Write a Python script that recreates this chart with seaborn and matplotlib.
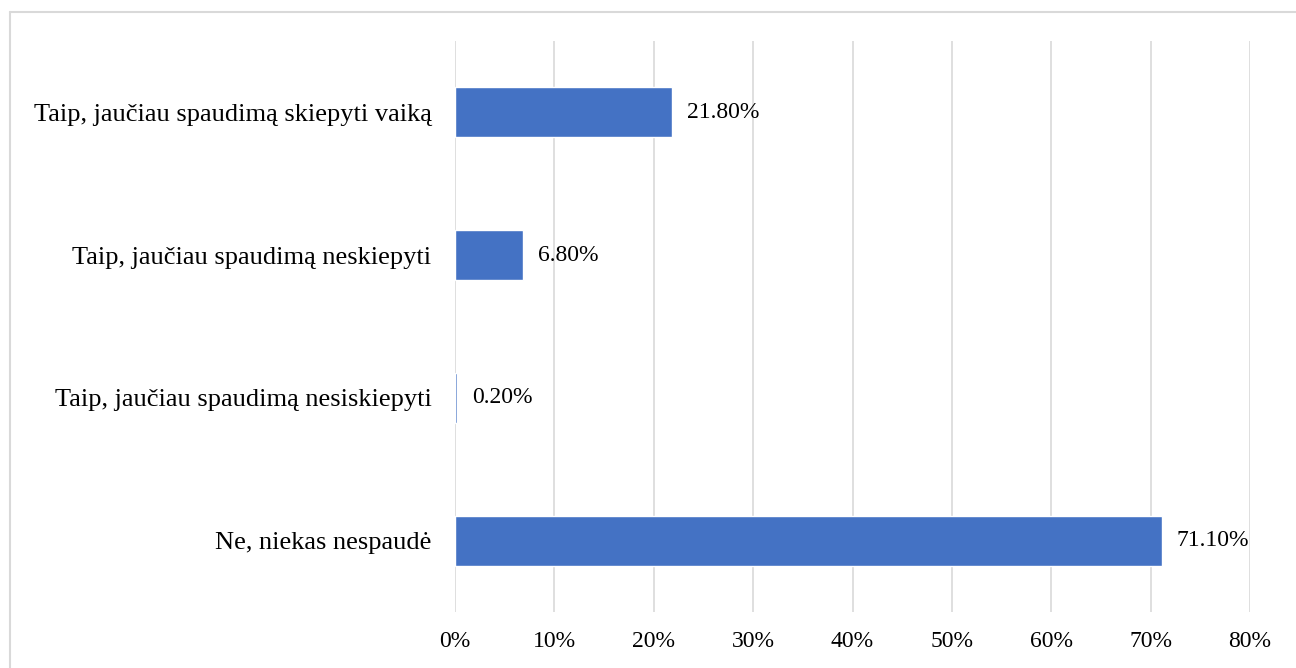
import matplotlib
matplotlib.use("Agg")
import matplotlib.pyplot as plt
from matplotlib.lines import Line2D
import seaborn as sns
import pandas as pd

categories = [
    "Taip, jaučiau spaudimą skiepyti vaiką",
    "Taip, jaučiau spaudimą neskiepyti",
    "Taip, jaučiau spaudimą nesiskiepyti",
    "Ne, niekas nespaudė",
]
values = [21.8, 6.8, 0.2, 71.1]
value_labels = ["21.80%", "6.80%", "0.20%", "71.10%"]
tick_values = [0, 10, 20, 30, 40, 50, 60, 70, 80]
tick_labels = ["0%", "10%", "20%", "30%", "40%", "50%", "60%", "70%", "80%"]

sns.set_theme(style="white")
plt.rcParams["font.family"] = ["Liberation Serif", "DejaVu Serif"]

df = pd.DataFrame({"category": categories, "value": values})

W, H = 1296, 668
fig = plt.figure(figsize=(W / 100, H / 100), dpi=100)
ax = fig.add_axes([455 / W, 1 - 612 / H, (1250 - 455) / W, (612 - 41) / H])

sns.barplot(data=df, x="value", y="category", orient="h", color="#4472C4",
            saturation=1, width=0.35, ax=ax, zorder=3)

ax.set_xlim(0, 80)
ax.set_xticks(tick_values)
ax.set_xticklabels(tick_labels, fontsize=17)
ax.tick_params(axis="x", length=0, pad=14, labelcolor="black")
ax.tick_params(axis="y", length=0, pad=17, labelsize=19, labelcolor="black")
ax.set_xlabel("")
ax.set_ylabel("")
ax.grid(axis="x", color="#d9d9d9", linewidth=1.2, zorder=0)
for s in ax.spines.values():
    s.set_visible(False)

for bar, lab in zip(ax.patches, value_labels):
    y = bar.get_y() + bar.get_height() / 2
    ax.annotate(lab, (bar.get_width(), y), xytext=(15, 0),
                textcoords="offset pixels", va="center", ha="left",
                fontsize=17, color="black")

# frame around the chart area
fig.add_artist(Line2D([10 / W, 10 / W], [0, 1 - 12 / H], transform=fig.transFigure,
                      color="#d9d9d9", linewidth=1.5))
fig.add_artist(Line2D([10 / W, 1], [1 - 12 / H, 1 - 12 / H], transform=fig.transFigure,
                      color="#d9d9d9", linewidth=1.5))

fig.savefig("out.png", dpi=100, facecolor="white")
